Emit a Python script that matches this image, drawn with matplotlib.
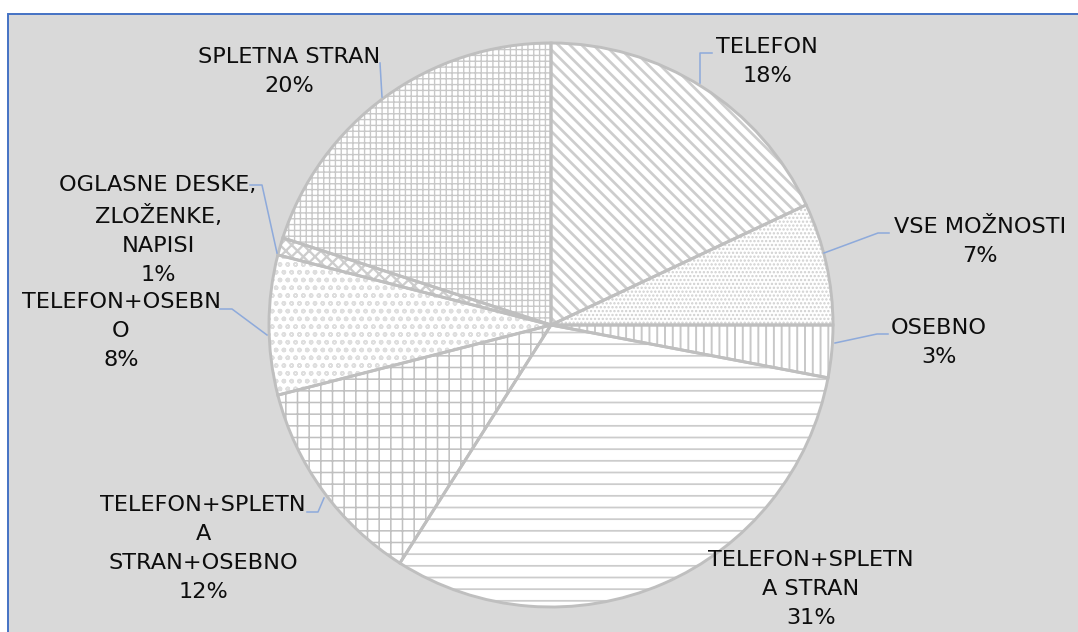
# -*- coding: utf-8 -*-
import numpy as np
import matplotlib.pyplot as plt
from matplotlib.patches import Rectangle

# podatki
kategorije = ['TELEFON', 'VSE MOŽNOSTI', 'OSEBNO', 'TELEFON+SPLETN\nA STRAN',
              'TELEFON+SPLETN\nA\nSTRAN+OSEBNO', 'TELEFON+OSEBN\nO',
              'OGLASNE DESKE,\nZLOŽENKE,\nNAPISI', 'SPLETNA STRAN']
delezi = [18, 7, 3, 31, 12, 8, 1, 20]

# postavitev (v pikslih slike)
vzorci = ['\\\\\\\\', '......', '|||', '--', '++', 'ooo', 'xxxx', '++++']
barve_vzorcev = ['#cdcdcd', '#cfcfcf', '#c8c8c8', '#cccccc', '#c0c0c0', '#dedede', '#cdcdcd', '#c8c8c8']
debeline_vzorcev = [1.4, 0.8, 1.0, 0.9, 0.8, 0.8, 1.2, 0.7]
poz_oznak = [(767, 47), (980, 227), (939, 328), (811, 560),
             (203, 505), (121, 302), (158, 185), (289, 57)]
poz_crt = [[(712, 53), (700, 53), (700, 83)],
           [(889, 233), (878, 233), (824, 253)],
           [(888, 334), (877, 334), (835, 343)],
           None,
           [(307, 512), (318, 512), (324, 498)],
           [(220, 309), (232, 309), (267, 335)],
           [(250, 185), (262, 185), (277, 253)],
           [(380, 63), (382, 97)]]

plt.rcParams['font.family'] = ['DejaVu Sans']
plt.rcParams['hatch.linewidth'] = 0.9

fig = plt.figure(figsize=(7.7, 632 / 140), dpi=140, facecolor='white')
ax = fig.add_axes([0, 0, 1, 1])

ax.add_patch(Rectangle((8, 14), 1200, 700, facecolor='#d9d9d9',
                       edgecolor='#4472c4', linewidth=1.0, zorder=0))

# polnilo z vzorci
klini, _ = ax.pie(delezi, center=(551, 325), radius=282, startangle=-90, counterclock=True,
                  colors=['white'] * len(delezi), hatch=vzorci,
                  wedgeprops=dict(linewidth=0), frame=True)
for i, k in enumerate(klini):
    k.set_edgecolor(barve_vzorcev[i])
    k.set_linewidth(0)
    if hasattr(k, 'set_hatch_linewidth'):
        k.set_hatch_linewidth(debeline_vzorcev[i])
# robovi
ax.pie(delezi, center=(551, 325), radius=282, startangle=-90, counterclock=True,
       wedgeprops=dict(fill=False, edgecolor='#bfbfbf', linewidth=1.5), frame=True)

for i in range(len(delezi)):
    x, y = poz_oznak[i]
    ax.text(x, y - 10, kategorije[i] + '\n' + str(delezi[i]) + '%', ha='center', va='top',
            fontsize=11.5, color='#0d0d0d', linespacing=1.56,
            transform=ax.transData)
    if poz_crt[i] is not None:
        xs = [p[0] for p in poz_crt[i]]
        ys = [p[1] for p in poz_crt[i]]
        ax.plot(xs, ys, color='#8eaadb', linewidth=0.8)

ax.set_xlim(0, 1078)
ax.set_ylim(632, 0)
ax.set_aspect('auto')
ax.axis('off')
plt.savefig('out.png', dpi=140, facecolor='white')
